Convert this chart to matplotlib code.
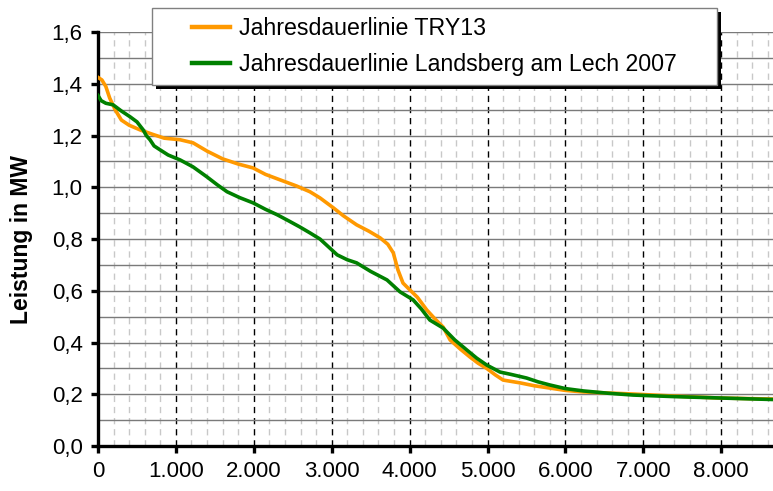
from matplotlib import pyplot as plt
from matplotlib.patches import Rectangle
from matplotlib.ticker import MultipleLocator, FuncFormatter

plt.rcParams['font.family'] = ['Liberation Sans', 'DejaVu Sans']

# Jahresdauerlinien (Stunden im Jahr -> Leistung in MW)
hours_try = [0, 50, 100, 150, 220, 300, 400, 540, 700, 850, 1053, 1220, 1400, 1600,
             1800, 1990, 2150, 2336, 2550, 2720, 2850, 3020, 3150, 3320, 3480, 3620,
             3720, 3790, 3850, 3915, 4005, 4100, 4220, 4330, 4430, 4520, 4650, 4775,
             4880, 4990, 5100, 5200, 5420, 5600, 5800, 6000, 6230, 6550, 6870, 7400,
             7950, 8400, 8760]
power_try = [1.425, 1.415, 1.39, 1.345, 1.30, 1.26, 1.24, 1.222, 1.205, 1.19, 1.184,
             1.172, 1.14, 1.11, 1.09, 1.075, 1.05, 1.029, 1.005, 0.983, 0.959, 0.921,
             0.89, 0.855, 0.83, 0.805, 0.78, 0.747, 0.681, 0.63, 0.603, 0.575, 0.526,
             0.49, 0.46, 0.41, 0.375, 0.344, 0.32, 0.30, 0.275, 0.255, 0.244, 0.233,
             0.224, 0.215, 0.209, 0.205, 0.201, 0.193, 0.186, 0.183, 0.181]

hours_lands = [0, 40, 100, 193, 300, 410, 500, 580, 620, 667, 720, 796, 900, 1053,
               1220, 1400, 1530, 1656, 1820, 1990, 2150, 2300, 2450, 2590, 2720, 2850,
               3070, 3200, 3320, 3500, 3710, 3877, 4045, 4150, 4260, 4430, 4580, 4735,
               4860, 4990, 5160, 5300, 5500, 5650, 5800, 6000, 6230, 6550, 6870, 7400,
               7950, 8400, 8760]
power_lands = [1.355, 1.335, 1.325, 1.319, 1.295, 1.273, 1.253, 1.222, 1.20, 1.184,
               1.16, 1.145, 1.125, 1.106, 1.079, 1.04, 1.01, 0.983, 0.96, 0.94, 0.915,
               0.894, 0.87, 0.847, 0.824, 0.80, 0.739, 0.72, 0.708, 0.675, 0.642, 0.596,
               0.565, 0.53, 0.487, 0.456, 0.41, 0.371, 0.34, 0.313, 0.286, 0.277, 0.263,
               0.248, 0.236, 0.222, 0.213, 0.204, 0.197, 0.191, 0.186, 0.182, 0.179]

labels = ['Jahresdauerlinie TRY13', 'Jahresdauerlinie Landsberg am Lech 2007']

fig = plt.figure(figsize=(7.73, 4.91), dpi=100)
ax = fig.add_axes([0.1268, 0.0916, 0.8732, 0.843])

ax.plot(hours_try, power_try, color='#FF9900', lw=2.6, label=labels[0], zorder=3,
        solid_joinstyle='round')
ax.plot(hours_lands, power_lands, color='#008000', lw=2.6, label=labels[1], zorder=4,
        solid_joinstyle='round')

ax.set_xlim(0, 8665)
ax.set_ylim(0, 1.6)

ax.xaxis.set_major_locator(MultipleLocator(1000))
ax.xaxis.set_minor_locator(MultipleLocator(200))
ax.yaxis.set_major_locator(MultipleLocator(0.2))
ax.yaxis.set_minor_locator(MultipleLocator(0.1))

ax.xaxis.set_major_formatter(FuncFormatter(lambda v, p: f'{int(v):,}'.replace(',', '.')))
ax.yaxis.set_major_formatter(FuncFormatter(lambda v, p: f'{v:.1f}'.replace('.', ',')))

# gitter wie in Excel
ax.grid(which='both', axis='y', color='#7a7a7a', lw=1.0, ls='-')
ax.grid(which='major', axis='x', color='black', lw=1.0, ls=(0, (4.5, 3.5)))
ax.grid(which='minor', axis='x', color='#c8c8c8', lw=1.0, ls=(0, (4.5, 3.5)))
ax.set_axisbelow(True)

for side in ['top', 'right']:
    ax.spines[side].set_visible(False)
for side in ['left', 'bottom']:
    ax.spines[side].set_linewidth(2.4)
    ax.spines[side].set_color('black')

ax.tick_params(which='major', direction='out', length=5, width=2.4, labelsize=16, pad=6)
ax.tick_params(which='minor', length=0)

ax.set_ylabel('Leistung in MW', fontsize=16.5, fontweight='bold')
ax.yaxis.set_label_coords(-0.096, 0.5)

# legende mit schattenrahmen
x0, x1, y0, y1 = 0.08, 0.917, 0.872, 1.058
ax.add_patch(Rectangle((x0 + 0.006, y0 - 0.0097), x1 - x0, y1 - y0, transform=ax.transAxes,
                       facecolor='black', edgecolor='none', clip_on=False, zorder=9))
ax.add_patch(Rectangle((x0, y0), x1 - x0, y1 - y0, transform=ax.transAxes,
                       facecolor='white', edgecolor='#808080', lw=1, clip_on=False, zorder=10))
leg = ax.legend(loc='center', bbox_to_anchor=((x0 + x1) / 2, (y0 + y1) / 2),
                frameon=False, fontsize=16.7, handlelength=1.65, handletextpad=0.4,
                labelspacing=0.55, borderpad=0)
leg.set_zorder(11)
for line in leg.get_lines():
    line.set_linewidth(3.2)

fig.savefig('out.png', dpi=100)
